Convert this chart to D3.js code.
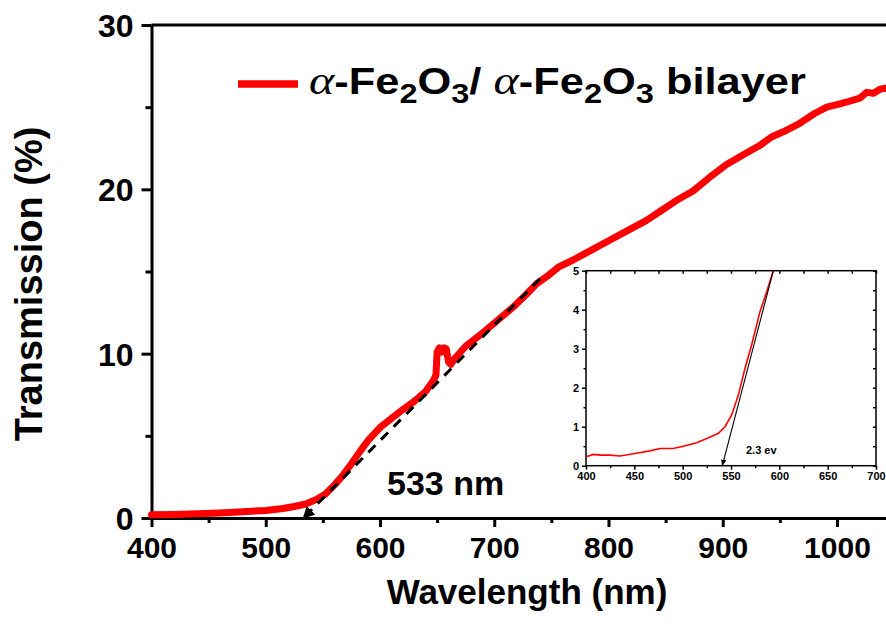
<!DOCTYPE html>
<html>
<head>
<meta charset="utf-8">
<script src="https://cdn.jsdelivr.net/npm/d3@7/dist/d3.min.js"></script>
<style>
  html, body { margin: 0; padding: 0; background: #fff; overflow: hidden; }
  svg { display: block; }
  text { font-family: Arial, "Liberation Sans", sans-serif; font-weight: bold; fill: #000; }
</style>
</head>
<body>
<svg id="chart" width="886" height="626"></svg>
<script>
// Transmission spectrum of the α-Fe2O3/α-Fe2O3 bilayer (wavelength in nm, transmission in %)
const wavelength = [400, 420, 440, 460, 480, 500, 515, 525, 535, 545, 552, 560, 567, 575, 583, 590,
  600, 610, 620, 630, 640, 647, 649, 650, 652, 654, 656, 658, 660, 662, 666, 675, 687, 699, 716,
  728, 737, 748, 757, 769, 785, 801, 817, 833, 845, 859, 874, 888, 903, 918, 932, 943, 953, 967,
  980, 991, 1000, 1008, 1020, 1026, 1032, 1038, 1046];
const transmission = [0.20, 0.22, 0.26, 0.31, 0.38, 0.46, 0.58, 0.70, 0.85, 1.15, 1.45, 2.0, 2.55, 3.3, 4.1, 4.75,
  5.5, 6.05, 6.6, 7.1, 7.7, 8.4, 8.7, 10.1, 10.35, 10.1, 10.35, 10.3, 9.5, 9.35, 9.75, 10.45, 11.1, 11.8, 12.8,
  13.6, 14.25, 14.8, 15.3, 15.7, 16.3, 16.9, 17.5, 18.1, 18.65, 19.3, 19.9, 20.7, 21.5, 22.1, 22.65, 23.2, 23.5, 24.0,
  24.6, 25.0, 25.15, 25.3, 25.55, 25.9, 25.85, 26.1, 26.2];

// Absorption edge extrapolation (dashed) : 533 nm
const edgeWavelength = [533, 740];
const edgeTransmission = [0, 14.55];

// Inset: edge region 400–700 nm and its tangent (2.3 eV)
const insetWavelength = [400, 407.6, 415, 424.8, 435, 443, 452, 466, 476.6, 490, 500.7, 514.5, 528, 537,
  543.8, 550.7, 557.6, 564.5, 571.4, 580, 586.9, 593.8];
const insetSignal = [0.23, 0.29, 0.27, 0.27, 0.25, 0.28, 0.32, 0.38, 0.44, 0.44, 0.50, 0.59, 0.73, 0.83,
  1.0, 1.30, 1.81, 2.5, 3.1, 3.95, 4.46, 5.0];
const insetTangentWavelength = [593.8, 541];
const insetTangentSignal = [5.0, 0];

const xTicks = [400, 500, 600, 700, 800, 900, 1000];
const xMinorTicks = [450, 550, 650, 750, 850, 950, 1050];
const yTicks = [0, 10, 20, 30];
const yMinorTicks = [5, 15, 25];
const insetXTicks = [400, 450, 500, 550, 600, 650, 700];
const insetXMinor = [425, 475, 525, 575, 625, 675];
const insetYTicks = [0, 1, 2, 3, 4, 5];
const insetYMinor = [0.5, 1.5, 2.5, 3.5, 4.5];

const legendLabel = ["α", "-Fe", "2", "O", "3", "/ ", "α", "-Fe", "2", "O", "3", " bilayer"];
const edgeLabel = "533 nm";
const insetNote = "2.3 ev";

const svg = d3.select("#chart");

// ---------- main panel ----------
const x = d3.scaleLinear().domain([400, 1050]).range([151.5, 894.1]);
const y = d3.scaleLinear().domain([0, 30]).range([518, 25]);

const axisStroke = 3;

function styleAxis(g, width, fontSize) {
  g.selectAll("path.domain").attr("stroke", "#000").attr("stroke-width", width);
  g.selectAll(".tick line").attr("stroke", "#000").attr("stroke-width", width);
  g.selectAll(".tick text").style("font-size", fontSize + "px")
    .style("font-family", "Arial, 'Liberation Sans', sans-serif").style("font-weight", "bold").attr("fill", "#000");
}

// top frame
svg.append("line").attr("x1", x(400)).attr("x2", x(1050)).attr("y1", y(30)).attr("y2", y(30))
  .attr("stroke", "#000").attr("stroke-width", axisStroke);

// x axis
const gx = svg.append("g").attr("transform", `translate(0,${y(0)})`)
  .call(d3.axisBottom(x).tickValues(xTicks).tickSize(9).tickSizeOuter(0).tickPadding(10).tickFormat(d3.format("d")));
styleAxis(gx, axisStroke, 30);
const gxm = svg.append("g").attr("transform", `translate(0,${y(0)})`)
  .call(d3.axisBottom(x).tickValues(xMinorTicks).tickSize(5).tickSizeOuter(0).tickFormat(""));
styleAxis(gxm, axisStroke, 30);
gxm.select("path.domain").remove();

// y axis
const gy = svg.append("g").attr("transform", `translate(${x(400)},0)`)
  .call(d3.axisLeft(y).tickValues(yTicks).tickSize(10).tickSizeOuter(0).tickPadding(8).tickFormat(d3.format("d")));
styleAxis(gy, axisStroke, 32);
gy.selectAll(".tick text").attr("dy", "0.36em");
const gym = svg.append("g").attr("transform", `translate(${x(400)},0)`)
  .call(d3.axisLeft(y).tickValues(yMinorTicks).tickSize(6).tickSizeOuter(0).tickFormat(""));
styleAxis(gym, axisStroke, 32);
gym.select("path.domain").remove();

// axis titles
svg.append("text").attr("x", 527).attr("y", 604).attr("text-anchor", "middle")
  .style("font-size", "35px").text("Wavelength (nm)");
svg.append("text").attr("transform", "translate(42,284) rotate(-90)").attr("text-anchor", "middle")
  .style("font-size", "38px").text("Transmission (%)");

// transmission curve
const mainData = wavelength.map((w, i) => [w, transmission[i]]);
svg.append("path").datum(mainData)
  .attr("fill", "none").attr("stroke", "#ff0000").attr("stroke-width", 7)
  .attr("stroke-linejoin", "round").attr("stroke-linecap", "round")
  .attr("d", d3.line().x(d => x(d[0])).y(d => y(d[1])));

// arrow markers
const defs = svg.append("defs");
defs.append("marker").attr("id", "arrowMain").attr("viewBox", "0 0 10 10")
  .attr("refX", 9).attr("refY", 5).attr("markerWidth", 4).attr("markerHeight", 4)
  .attr("markerUnits", "strokeWidth").attr("orient", "auto")
  .append("path").attr("d", "M0,0 L10,5 L0,10 Z").attr("fill", "#000");
defs.append("marker").attr("id", "arrowInset").attr("viewBox", "0 0 10 10")
  .attr("refX", 9).attr("refY", 5).attr("markerWidth", 6).attr("markerHeight", 6)
  .attr("markerUnits", "strokeWidth").attr("orient", "auto")
  .append("path").attr("d", "M0,1 L10,5 L0,9 Z").attr("fill", "#000");

// edge extrapolation (dashed)
const edgeData = edgeWavelength.map((w, i) => [w, edgeTransmission[i]]).reverse();
svg.append("path").datum(edgeData)
  .attr("fill", "none").attr("stroke", "#000").attr("stroke-width", 3)
  .attr("stroke-dasharray", "10,8")
  .attr("marker-end", "url(#arrowMain)")
  .attr("d", d3.line().x(d => x(d[0])).y(d => y(d[1])));

svg.append("text").attr("x", 387).attr("y", 495).style("font-size", "34px").text(edgeLabel);

// legend
svg.append("line").attr("x1", 238).attr("x2", 298).attr("y1", 84).attr("y2", 84)
  .attr("stroke", "#ff0000").attr("stroke-width", 7.5);
const leg = svg.append("text").attr("x", 0).attr("y", 0).style("font-size", "36px");
legendLabel.forEach((s, i) => {
  const t = leg.append("tspan").text(s);
  if (s === "α") {
    t.style("font-family", "'Liberation Serif', 'Times New Roman', serif").style("font-weight", "normal")
      .style("font-style", "italic").style("font-size", "40px");
  }
  if (s === "2" || s === "3") {
    t.style("font-size", "27px").attr("dy", 9);
  } else if (i > 0 && (legendLabel[i - 1] === "2" || legendLabel[i - 1] === "3")) {
    t.attr("dy", -9);
  }
});
// the legend entry is set slightly wide, spanning to the "bilayer" end
const legWidth = leg.node().getComputedTextLength();
leg.attr("transform", `translate(309,94) scale(${497 / legWidth},1)`);

// ---------- inset ----------
const ix = d3.scaleLinear().domain([400, 700]).range([586, 876]);
const iy = d3.scaleLinear().domain([0, 5]).range([465.7, 270.7]);
const inset = svg.append("g");
inset.append("rect").attr("x", ix(400)).attr("y", iy(5)).attr("width", ix(700) - ix(400)).attr("height", iy(0) - iy(5))
  .attr("fill", "#fff").attr("stroke", "#000").attr("stroke-width", 1.5);

const ig = [];
ig.push(inset.append("g").attr("transform", `translate(0,${iy(0)})`)
  .call(d3.axisBottom(ix).tickValues(insetXTicks).tickSize(4).tickSizeOuter(0).tickPadding(3).tickFormat(d3.format("d"))));
ig.push(inset.append("g").attr("transform", `translate(0,${iy(0)})`)
  .call(d3.axisBottom(ix).tickValues(insetXMinor).tickSize(2.5).tickSizeOuter(0).tickFormat("")));
ig.push(inset.append("g").attr("transform", `translate(0,${iy(5)})`)
  .call(d3.axisBottom(ix).tickValues(insetXTicks.concat(insetXMinor)).tickSize(3).tickSizeOuter(0).tickFormat("")));
ig.push(inset.append("g").attr("transform", `translate(${ix(400)},0)`)
  .call(d3.axisLeft(iy).tickValues(insetYTicks).tickSize(4).tickSizeOuter(0).tickPadding(3).tickFormat(d3.format("d"))));
ig.push(inset.append("g").attr("transform", `translate(${ix(400)},0)`)
  .call(d3.axisLeft(iy).tickValues(insetYMinor).tickSize(2.5).tickSizeOuter(0).tickFormat("")));
ig.push(inset.append("g").attr("transform", `translate(${ix(700)},0)`)
  .call(d3.axisLeft(iy).tickValues(insetYTicks.concat(insetYMinor)).tickSize(3).tickSizeOuter(0).tickFormat("")));
ig.forEach(g => { styleAxis(g, 1.5, 11); g.select("path.domain").remove(); });

const insetData = insetWavelength.map((w, i) => [w, insetSignal[i]]);
inset.append("path").datum(insetData)
  .attr("fill", "none").attr("stroke", "#ff0000").attr("stroke-width", 1.6)
  .attr("d", d3.line().x(d => ix(d[0])).y(d => iy(d[1])));

const tangentData = insetTangentWavelength.map((w, i) => [w, insetTangentSignal[i]]);
inset.append("path").datum(tangentData)
  .attr("fill", "none").attr("stroke", "#000").attr("stroke-width", 1.1)
  .attr("marker-end", "url(#arrowInset)")
  .attr("d", d3.line().x(d => ix(d[0])).y(d => iy(d[1])));

inset.append("text").attr("x", 746).attr("y", 454).style("font-size", "11px").text(insetNote);
</script>
</body>
</html>
